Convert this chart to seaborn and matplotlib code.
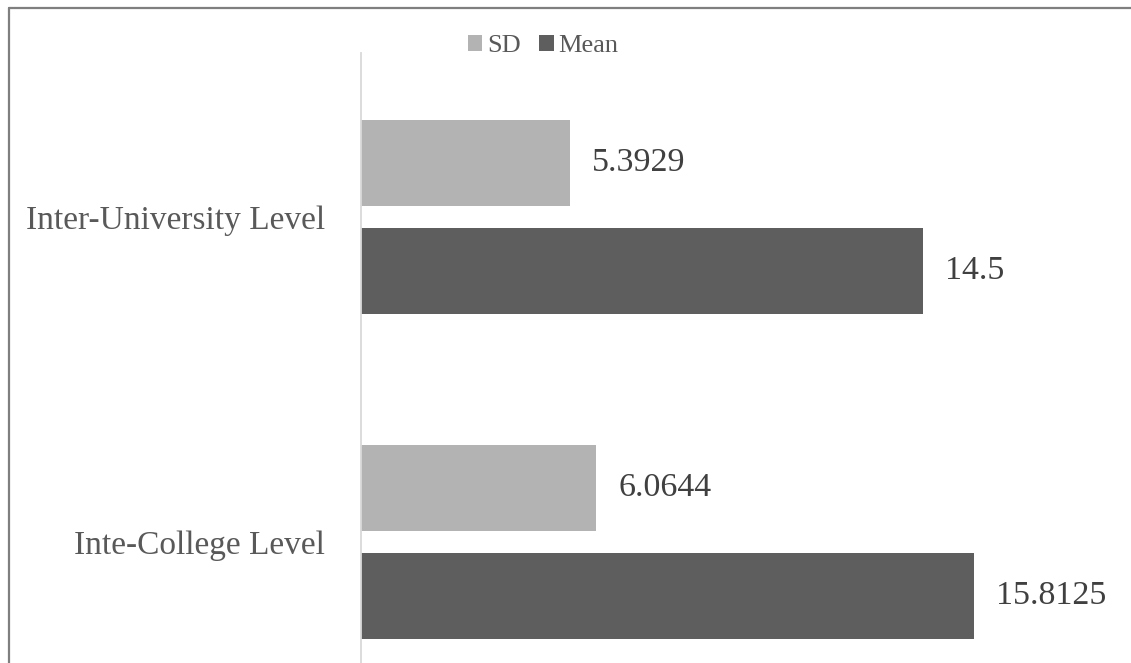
import matplotlib
matplotlib.use("Agg")
import matplotlib.pyplot as plt
from matplotlib.lines import Line2D
from matplotlib.patches import Patch
import seaborn as sns
import pandas as pd

# Data
levels = ["Inter-University Level", "Inte-College Level"]
stats = ["SD", "Mean"]
sd_values = [5.3929, 6.0644]
mean_values = [14.5, 15.8125]
colors = {"SD": "#B3B3B3", "Mean": "#5E5E5E"}

df = pd.DataFrame({
    "level": levels * 2,
    "stat": ["SD"] * len(levels) + ["Mean"] * len(levels),
    "value": sd_values + mean_values,
})

sns.set_style("white")
plt.rcParams["font.family"] = ["Liberation Serif", "DejaVu Serif"]

W, H = 1131, 663
fig = plt.figure(figsize=(W / 100, H / 100), dpi=100)
ax = fig.add_axes([361 / W, 0.0, (1100 - 361) / W, (H - 53) / H])

sns.barplot(
    data=df, y="level", x="value", hue="stat", order=levels, hue_order=stats,
    palette=colors, orient="h", width=0.665, gap=0.2, ax=ax,
    legend=False, edgecolor="none", saturation=1,
)

ax.set_xlim(0, (1100 - 361) / 38.75)
ax.set_ylim(1.372, -0.5046)
ax.set_xlabel("")
ax.set_ylabel("")
ax.set_xticks([])
ax.tick_params(axis="y", length=0, pad=26, labelsize=24, labelcolor="#595959")

for side in ["top", "right", "bottom"]:
    ax.spines[side].set_visible(False)
ax.spines["left"].set_color("#D9D9D9")
ax.spines["left"].set_linewidth(1.3)

for container in ax.containers:
    labels = ax.bar_label(
        container, labels=[f"{b.get_width():g}" for b in container],
        padding=16, fontsize=24.5, color="#404040",
    )
    for t in labels:
        t.set_y(t.get_position()[1])
        t.set_verticalalignment("center")

handles = [Patch(facecolor=colors[s], edgecolor="none") for s in stats]
fig.legend(
    handles, stats, loc="center", bbox_to_anchor=(543 / W, 1 - 46 / H),
    ncol=2, frameon=False, fontsize=19, labelcolor="#595959",
    handlelength=0.55, handleheight=0.55, handletextpad=0.18, columnspacing=0.7,
)

# Outer frame lines
fig.add_artist(Line2D([8.5 / W, 1.0], [1 - 7.5 / H, 1 - 7.5 / H],
                      transform=fig.transFigure, color="#7F7F7F", lw=1.6))
fig.add_artist(Line2D([8.5 / W, 8.5 / W], [0.0, 1 - 7.5 / H],
                      transform=fig.transFigure, color="#7F7F7F", lw=1.6))

fig.savefig("out.png", dpi=100, facecolor="white")
